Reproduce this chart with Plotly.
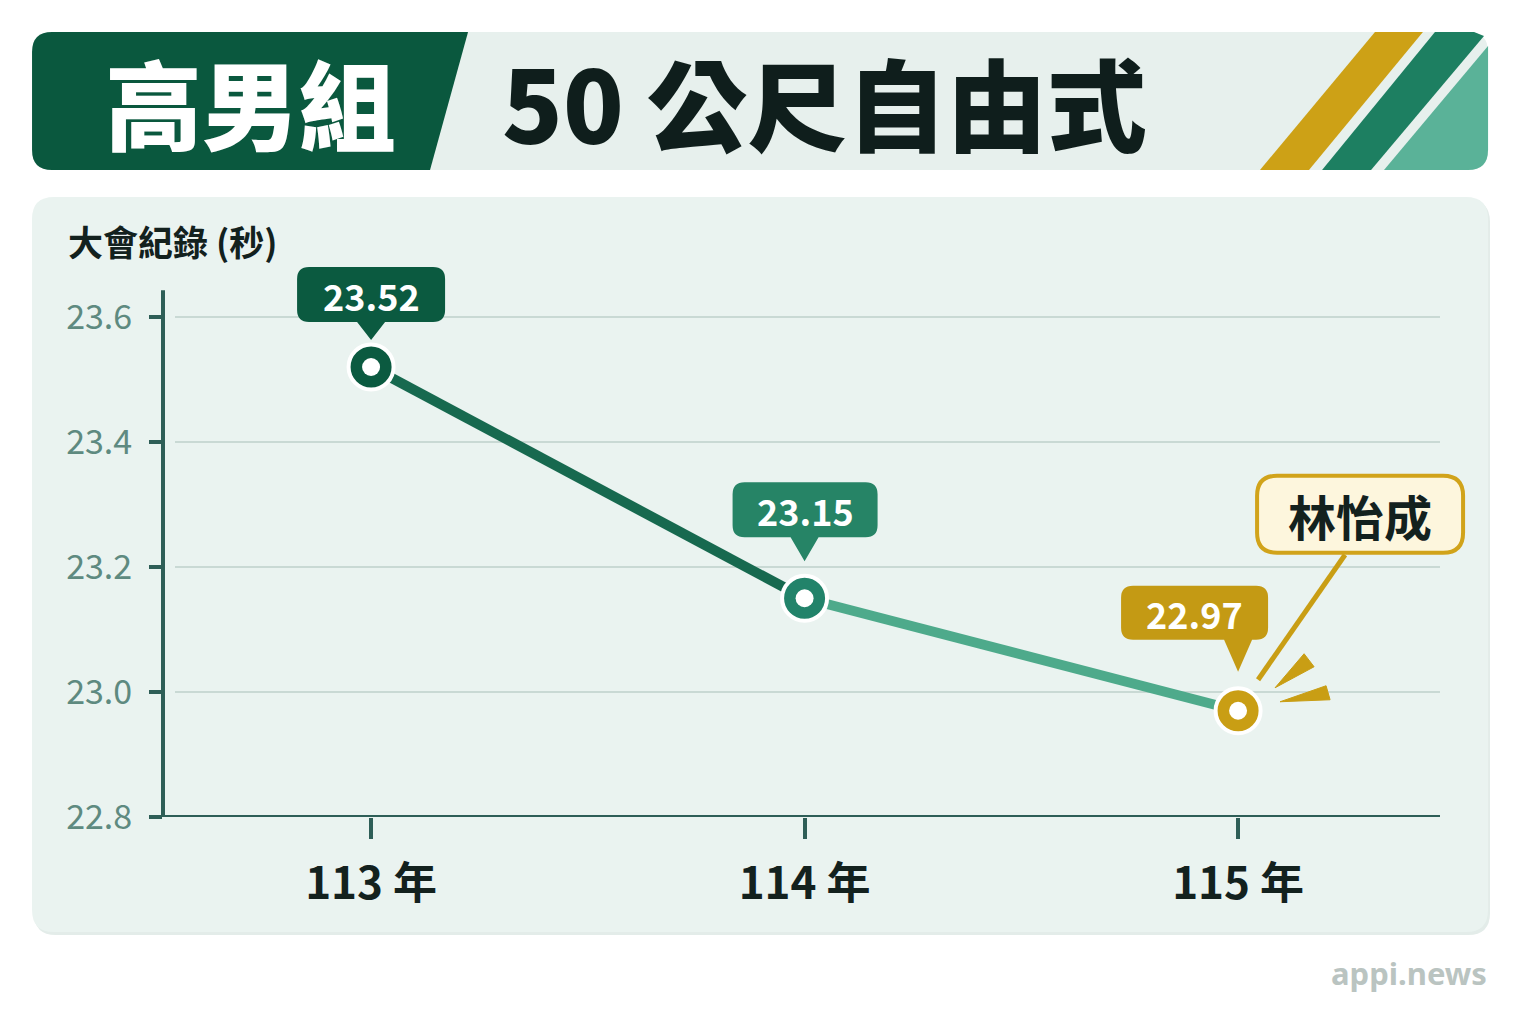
import plotly.graph_objects as go

# chart data
years = ["113 年", "114 年", "115 年"]
times = [23.52, 23.15, 22.97]
value_labels = ["23.52", "23.15", "22.97"]
y_ticks = [22.8, 23.0, 23.2, 23.4, 23.6]
y_tick_text = ["22.8", "23.0", "23.2", "23.4", "23.6"]
axis_top = 23.643  # where the drawn y axis line stops

title_left = "高男組"
title_right = "50 公尺自由式"
y_title = "大會紀錄 (秒)"
highlight_name = "林怡成"
source = "appi.news"

# styles
FONT = "Noto Sans CJK TC"
DARK = "#0B5A40"
MID = "#22836A"
GOLD = "#C99E14"
INK = "#13211E"
AXIS = "#2E5E57"
point_colors = [DARK, MID, GOLD]
box_colors = ["#0B5A40", "#268466", "#C49A14"]
seg_colors = ["#17694F", "#4EAA8B"]
# label boxes relative to each marker (pixels, y down): x0, x1, top, bottom, pointer tip
box_geom = [(-74, 74, -100, -45, -27), (-72, 73, -116, -61, -37), (-117, 30, -125, -71, -39)]

# page has an 8px body margin, so the figure is drawn 8px in from the window edge
OFF = 8
W, H = 1520 - OFF, 1013 - OFF
PX0, PX1, PY0, PY1 = 163, 1470, 230, 817  # plot area in window pixels
PW, PH = PX1 - PX0, PY1 - PY0
x_range = [-0.48, -0.48 + PW / 433.5]
y_range = [22.8, 22.8 + PH / 625.0]


def fx(X):
    return (X - PX0) / PW


def fy(Y):
    return (PY1 - Y) / PH


def paper(x, y):
    return fx(x), fy(y)


def pix(x, y):
    return x, -y


def rounded(x0, y0, x1, y1, r, tf, notch=None):
    P = lambda x, y: "{:.4f},{:.4f}".format(*tf(x, y))
    s = f"M{P(x0 + r, y0)} L{P(x1 - r, y0)} Q{P(x1, y0)} {P(x1, y0 + r)} L{P(x1, y1 - r)} Q{P(x1, y1)} {P(x1 - r, y1)}"
    if notch:
        px, hw, ty = notch
        s += f" L{P(px + hw, y1)} L{P(px, ty)} L{P(px - hw, y1)}"
    s += f" L{P(x0 + r, y1)} Q{P(x0, y1)} {P(x0, y1 - r)} L{P(x0, y0 + r)} Q{P(x0, y0)} {P(x0 + r, y0)} Z"
    return s


def poly(pts, tf, close=True):
    s = " ".join(("M" if i == 0 else "L") + "{:.4f},{:.4f}".format(*tf(x, y)) for i, (x, y) in enumerate(pts))
    return s + (" Z" if close else "")


idx = list(range(len(years)))

fig = go.Figure()

for i in range(len(years) - 1):
    fig.add_trace(go.Scatter(x=[idx[i], idx[i + 1]], y=[times[i], times[i + 1]], mode="lines",
                             line=dict(color=seg_colors[i], width=10), hoverinfo="skip", showlegend=False))

fig.add_trace(go.Scatter(x=idx, y=times, mode="markers", cliponaxis=False, showlegend=False,
                         marker=dict(size=45, color=point_colors, line=dict(color="white", width=4))))
fig.add_trace(go.Scatter(x=idx, y=times, mode="markers", cliponaxis=False, showlegend=False, hoverinfo="skip",
                         marker=dict(size=18, color="white")))

shapes = []
annotations = []

# background panels
shapes.append(dict(type="path", xref="paper", yref="paper", layer="below",
                   path=rounded(34, 200, 1490, 935, 22, paper), fillcolor="#E3ECE9", line_width=0))
shapes.append(dict(type="path", xref="paper", yref="paper", layer="below",
                   path=rounded(32, 197, 1488, 932, 22, paper), fillcolor="#EAF3F0", line_width=0))
shapes.append(dict(type="path", xref="paper", yref="paper", layer="below",
                   path=rounded(32, 32, 1488, 170, 20, paper), fillcolor="#E7F0ED", line_width=0))

# header decorations
dark_tab = (f"M{fx(52):.4f},{fy(32):.4f} L{fx(468):.4f},{fy(32):.4f} L{fx(430):.4f},{fy(170):.4f} "
            f"L{fx(52):.4f},{fy(170):.4f} Q{fx(32):.4f},{fy(170):.4f} {fx(32):.4f},{fy(150):.4f} "
            f"L{fx(32):.4f},{fy(52):.4f} Q{fx(32):.4f},{fy(32):.4f} {fx(52):.4f},{fy(32):.4f} Z")
shapes.append(dict(type="path", xref="paper", yref="paper", layer="below", path=dark_tab,
                   fillcolor="#0A583E", line_width=0))
shapes.append(dict(type="path", xref="paper", yref="paper", layer="below",
                   path=poly([(1375, 32), (1423, 32), (1309, 170), (1260, 170)], paper),
                   fillcolor="#CDA116", line_width=0))
shapes.append(dict(type="path", xref="paper", yref="paper", layer="below",
                   path=poly([(1435, 32), (1474, 32), (1484, 36), (1371, 170), (1322, 170)], paper),
                   fillcolor="#1D7F61", line_width=0))
tri = (f"M{fx(1488):.4f},{fy(46):.4f} L{fx(1488):.4f},{fy(150):.4f} "
       f"Q{fx(1488):.4f},{fy(170):.4f} {fx(1468):.4f},{fy(170):.4f} L{fx(1384):.4f},{fy(170):.4f} Z")
shapes.append(dict(type="path", xref="paper", yref="paper", layer="below", path=tri,
                   fillcolor="#5AB298", line_width=0))

# grid and axis lines
for t in y_ticks[1:]:
    shapes.append(dict(type="line", xref="paper", yref="y", layer="below", x0=fx(175), x1=fx(1440), y0=t, y1=t,
                       line=dict(color="#C9D9D4", width=2)))
shapes.append(dict(type="line", xref="paper", yref="y", x0=0, x1=0, y0=y_ticks[0], y1=axis_top,
                   line=dict(color=AXIS, width=4), layer="below"))
shapes.append(dict(type="line", xref="paper", yref="y", x0=fx(150), x1=fx(1440), y0=y_ticks[0], y1=y_ticks[0],
                   line=dict(color=AXIS, width=4), layer="below"))

annotations.append(dict(xref="paper", yref="paper", x=fx(250), y=fy(100), text=title_left,
                        showarrow=False, xanchor="center", yanchor="middle",
                        font=dict(family=FONT, size=97, weight=900, color="white")))
annotations.append(dict(xref="paper", yref="paper", x=fx(500), y=fy(100), text=title_right,
                        showarrow=False, xanchor="left", yanchor="middle",
                        font=dict(family=FONT, size=100, weight=900, color="#0F1E1C")))
annotations.append(dict(xref="paper", yref="paper", x=fx(66), y=fy(240), text=f"<b>{y_title}</b>",
                        showarrow=False, xanchor="left", yanchor="middle",
                        font=dict(family=FONT, size=35, color=INK)))
annotations.append(dict(xref="paper", yref="paper", x=fx(1489), y=fy(973), text=f"<b>{source}</b>",
                        showarrow=False, xanchor="right", yanchor="middle",
                        font=dict(family="Noto Sans", size=31, color="#BAC4C1")))

# value label boxes anchored on the data points
for i, (x, v) in enumerate(zip(idx, times)):
    x0, x1, y0, y1, tip = box_geom[i]
    shapes.append(dict(type="path", xref="x", yref="y", xsizemode="pixel", ysizemode="pixel",
                       xanchor=x, yanchor=v, path=rounded(x0, y0, x1, y1, 12, pix, notch=(0, 14, tip)),
                       fillcolor=box_colors[i], line_width=0))
    annotations.append(dict(xref="x", yref="y", x=x, y=v, xshift=(x0 + x1) / 2, yshift=-(y0 + y1) / 2,
                            text=f"<b>{value_labels[i]}</b>", showarrow=False,
                            xanchor="center", yanchor="middle",
                            font=dict(family=FONT, size=36, color="white")))

# highlight callout on the latest point
hx, hv = idx[-1], times[-1]
anchor = dict(xref="x", yref="y", xsizemode="pixel", ysizemode="pixel", xanchor=hx, yanchor=hv)
shapes.append(dict(type="path", path=poly([(107, -156), (20, -31)], pix, close=False),
                   line=dict(color=GOLD, width=5), **anchor))
shapes.append(dict(type="path", path=poly([(37, -23), (66, -57), (76, -44)], pix),
                   fillcolor=GOLD, line=dict(color=GOLD, width=1), **anchor))
shapes.append(dict(type="path", path=poly([(42, -9), (88, -25), (92, -11)], pix),
                   fillcolor=GOLD, line=dict(color=GOLD, width=1), **anchor))
shapes.append(dict(type="path", path=rounded(19, -235, 225, -158, 20, pix),
                   fillcolor="#FDF6DD", line=dict(color="#D1A31A", width=4), **anchor))
annotations.append(dict(xref="x", yref="y", x=hx, y=hv, xshift=122, yshift=196, showarrow=False,
                        text=f"<b>{highlight_name}</b>", xanchor="center", yanchor="middle",
                        font=dict(family=FONT, size=48, color=INK)))

fig.update_layout(
    width=W,
    height=H,
    margin=dict(l=PX0 - OFF, r=W - (PX1 - OFF), t=PY0 - OFF, b=H - (PY1 - OFF), autoexpand=False),
    paper_bgcolor="white",
    plot_bgcolor="rgba(0,0,0,0)",
    showlegend=False,
    shapes=shapes,
    annotations=annotations,
    xaxis=dict(
        range=x_range,
        tickmode="array",
        tickvals=idx,
        ticktext=[f"<b>{y}</b>" for y in years],
        tickfont=dict(family=FONT, size=44, color=INK),
        ticks="outside", ticklen=21, tickwidth=4, tickcolor=AXIS,
        ticklabelstandoff=7,
        showline=False, showgrid=False, zeroline=False, fixedrange=True, automargin=False,
    ),
    yaxis=dict(
        range=y_range,
        tickmode="array",
        tickvals=y_ticks,
        ticktext=y_tick_text,
        tickfont=dict(family=FONT, size=34, color="#5E8A80"),
        ticks="outside", ticklen=13, tickwidth=4, tickcolor=AXIS,
        ticklabelstandoff=10,
        showline=False, showgrid=False, zeroline=False, fixedrange=True, automargin=False,
    ),
)

fig.write_html("out.html")
